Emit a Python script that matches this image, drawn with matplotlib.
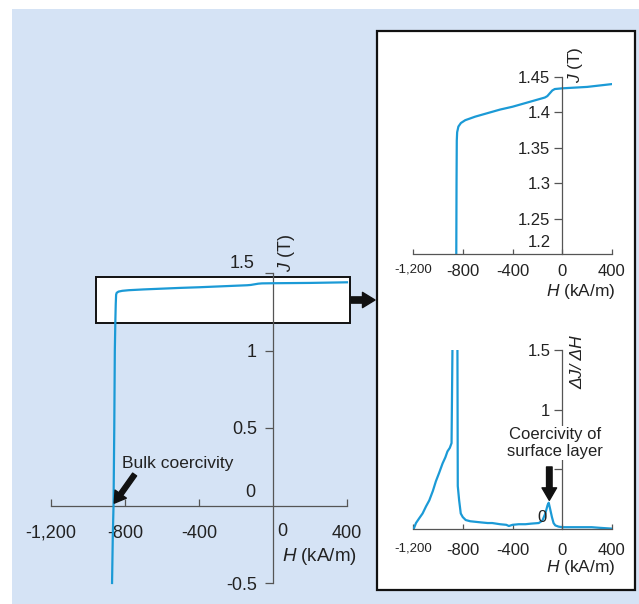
import numpy as np
import matplotlib
matplotlib.use('Agg')
import matplotlib.pyplot as plt
from matplotlib.patches import Rectangle

plt.rcParams['font.family'] = ['Liberation Sans', 'DejaVu Sans']
plt.rcParams['mathtext.fontset'] = 'custom'
plt.rcParams['mathtext.rm'] = 'Liberation Sans'
plt.rcParams['mathtext.it'] = 'Liberation Sans:italic'

# demagnetization curve J(H)
H_j = [-870, -866, -862, -858, -855, -852, -850, -848, -845, -835, -815, -780,
       -700, -600, -500, -400, -300, -200, -140, -120, -100, -80, -60, 0,
       100, 200, 300, 400]
J_j = [-0.5, -0.2, 0.0, 0.5, 1.0, 1.2, 1.30, 1.36, 1.372, 1.380, 1.385, 1.389,
       1.394, 1.399, 1.404, 1.408, 1.413, 1.418, 1.421, 1.423, 1.427, 1.431, 1.433, 1.434,
       1.435, 1.436, 1.438, 1.440]

# derivative dJ/dH
H_d = [-1195, -1176, -1150, -1123, -1095, -1069, -1040, -1016, -990, -962, -940,
       -923, -904, -890, -882, -865, -843, -840, -829, -816, -800, -776, -740,
       -696, -650, -600, -563, -500, -450, -429, -400, -350, -296, -250, -189,
       -160, -136, -118, -109, -100, -83, -70, -56, -30, 0, 100, 237, 300, 400]
D_d = [0.0, 0.05, 0.09, 0.13, 0.19, 0.24, 0.32, 0.40, 0.47, 0.55, 0.60,
       0.65, 0.68, 0.72, 1.6, 4.0, 1.6, 0.36, 0.24, 0.13, 0.10, 0.075, 0.065,
       0.06, 0.055, 0.05, 0.05, 0.04, 0.035, 0.025, 0.035, 0.04, 0.04, 0.045, 0.05,
       0.07, 0.13, 0.20, 0.22, 0.18, 0.10, 0.05, 0.03, 0.02, 0.015, 0.015, 0.015, 0.01, 0.003]

x_ticks = [-1200, -800, -400, 400]
x_labels = ['-1,200', '-800', '-400', '400']

blue = '#1b9ad6'
bg = '#d5e3f5'
axc = '#555555'
txt = '#222222'

fig = plt.figure(figsize=(6.39, 6.04), dpi=100)

# decoration layer in pixel coordinates
deco = fig.add_axes([0, 0, 1, 1], zorder=0)
deco.set_xlim(0, 639)
deco.set_ylim(604, 0)
deco.axis('off')
deco.add_patch(Rectangle((12, 9), 627, 595, facecolor=bg, edgecolor='none'))
deco.add_patch(Rectangle((377, 31), 258, 559, facecolor='white', edgecolor='#111111', lw=1.6))
deco.annotate('', xy=(375, 300), xytext=(351, 300),
              arrowprops=dict(width=4.5, headwidth=11, headlength=9, color='#111111', shrink=0))

def style(ax, tlen_x, tlen_y):
    ax.set_facecolor('none')
    ax.spines['top'].set_visible(False)
    ax.spines['right'].set_visible(False)
    for s in ('left', 'bottom'):
        ax.spines[s].set_color(axc)
        ax.spines[s].set_linewidth(0.9)
    ax.tick_params(axis='x', direction='in', length=tlen_x, color=axc, width=0.9, labelcolor=txt)
    ax.tick_params(axis='y', direction='out', length=tlen_y, color=axc, width=0.9, labelcolor=txt)

# main chart
ax = fig.add_axes([51/639, 21/604, 296/639, 310/604], zorder=1)
style(ax, 5, 5.5)
ax.set_xlim(-1200, 400)
ax.set_ylim(-0.5, 1.5)
ax.spines['left'].set_position(('data', 0))
ax.spines['bottom'].set_position(('data', 0))
ax.add_patch(Rectangle((-957, 1.18), 1373, 0.295, facecolor='white', edgecolor='#111111',
                       lw=1.4, clip_on=False, zorder=2))
ax.plot(H_j, J_j, color=blue, lw=1.6, zorder=3, clip_on=False)
ax.set_xticks(x_ticks)
ax.set_xticklabels(x_labels, fontsize=13)
ax.tick_params(axis='x', pad=14)
ax.set_yticks([-0.5, 0.5, 1, 1.5])
ax.set_yticklabels(['-0.5', '0.5', '1', ''], fontsize=13)
ax.tick_params(axis='y', pad=6)
ax.text(-98, 1.505, '1.5', fontsize=13, color=txt, ha='right', va='bottom')
ax.text(-125, 0.085, '0', fontsize=13, color=txt, ha='center', va='center')
ax.text(50, -0.168, '0', fontsize=13, color=txt, ha='center', va='center')
ax.text(455, -0.33, '$H$ (kA/m)', fontsize=13.5, color=txt, ha='right', va='center')
ax.text(72, 1.63, '$J$ (T)', fontsize=13, color=txt, ha='center', va='center',
        rotation=90, clip_on=False)
ax.text(-818, 0.27, 'Bulk coercivity', fontsize=12.5, color=txt, ha='left', va='center')
ax.annotate('', xy=(-858, 0.015), xytext=(-748, 0.2),
            arrowprops=dict(width=3.5, headwidth=10, headlength=8, color='#111111', shrink=0))

# zoomed J curve
ax1 = fig.add_axes([413/639, 350/604, 199/639, 177/604], zorder=1)
style(ax1, 3.5, 5.5)
ax1.set_xlim(-1200, 400)
ax1.set_ylim(1.2, 1.45)
ax1.spines['left'].set_position(('data', 0))
ax1.plot(H_j, J_j, color=blue, lw=1.6)
ax1.set_xticks(x_ticks + [0])
ax1.set_xticklabels(x_labels + ['0'], fontsize=12)
ax1.get_xticklabels()[0].set_fontsize(9.5)
ax1.tick_params(axis='x', pad=7)
ax1.set_yticks([1.25, 1.3, 1.35, 1.4, 1.45])
ax1.set_yticklabels(['1.25', '1.3', '1.35', '1.4', '1.45'], fontsize=12)
ax1.tick_params(axis='y', pad=3)
ax1.text(-95, 1.2165, '1.2', fontsize=12, color=txt, ha='right', va='center')
ax1.text(430, 1.147, '$H$ (kA/m)', fontsize=12.5, color=txt, ha='right', va='center', clip_on=False)
ax1.text(110, 1.467, '$J$ (T)', fontsize=12.5, color=txt, ha='center', va='center',
         rotation=90, clip_on=False)

# derivative
ax2 = fig.add_axes([413/639, 75/604, 199/639, 179/604], zorder=1)
style(ax2, 3.5, 5.5)
ax2.set_xlim(-1200, 400)
ax2.set_ylim(0, 1.5)
ax2.spines['left'].set_position(('data', 0))
ax2.plot(H_d, D_d, color=blue, lw=1.6)
ax2.set_xticks(x_ticks + [0])
ax2.set_xticklabels(x_labels + ['0'], fontsize=12)
ax2.get_xticklabels()[0].set_fontsize(9.5)
ax2.tick_params(axis='x', pad=10)
ax2.set_yticks([0.5, 1, 1.5])
ax2.set_yticklabels(['', '1', '1.5'], fontsize=12)
ax2.tick_params(axis='y', pad=3)
ax2.text(-160, 0.093, '0', fontsize=12, color=txt, ha='center', va='center')
ax2.text(430, -0.32, '$H$ (kA/m)', fontsize=12.5, color=txt, ha='right', va='center', clip_on=False)
ax2.text(125, 1.4, 'ΔJ/ ΔH', fontsize=12.5, color=txt, ha='center', va='center',
         rotation=90, style='italic', clip_on=False)
ax2.text(-56, 0.72, 'Coercivity of\nsurface layer', fontsize=12, color=txt, ha='center',
         va='center', linespacing=1.2, zorder=5,
         bbox=dict(facecolor='white', edgecolor='none', pad=0.5))
ax2.annotate('', xy=(-104, 0.24), xytext=(-104, 0.52),
             arrowprops=dict(width=4, headwidth=10.5, headlength=9, color='#111111', shrink=0))

fig.savefig('out.png', dpi=100)
